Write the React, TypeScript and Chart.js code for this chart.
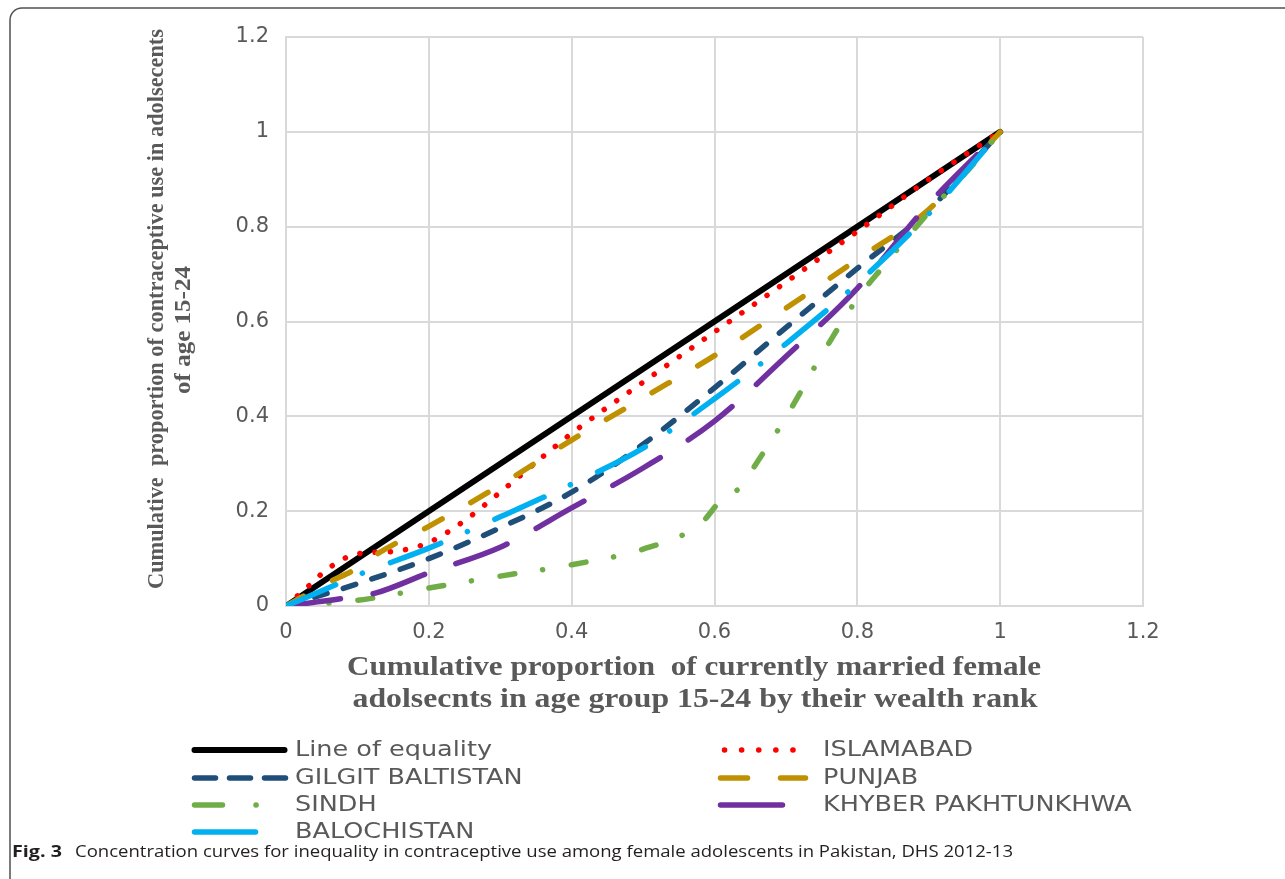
import React, { useEffect, useRef } from "react";
import { Chart, registerables } from "chart.js";

Chart.register(...registerables);

// ---------- data ----------
const seriesLabels = [
  "Line of equality",
  "ISLAMABAD",
  "GILGIT BALTISTAN",
  "PUNJAB",
  "SINDH",
  "KHYBER PAKHTUNKHWA",
  "BALOCHISTAN",
];

const equalityX = [0, 1];
const equalityY = [0, 1];

const islamabadX = [0, 0.03, 0.06, 0.1, 0.15, 0.2, 0.25, 0.3, 0.4, 0.5, 0.6, 0.7, 0.8, 0.9, 1];
const islamabadY = [0, 0.04, 0.08, 0.11, 0.115, 0.134, 0.18, 0.24, 0.364, 0.472, 0.578, 0.683, 0.79, 0.9, 1];

const gilgitX = [0, 0.1, 0.2, 0.3, 0.4, 0.5, 0.6, 0.7, 0.8, 0.9, 1];
const gilgitY = [0, 0.047, 0.1, 0.165, 0.24, 0.341, 0.46, 0.587, 0.712, 0.835, 1];

const punjabX = [0, 0.06, 0.1, 0.13, 0.2, 0.3, 0.4, 0.5, 0.6, 0.7, 0.8, 0.9, 1];
const punjabY = [0, 0.05, 0.08, 0.112, 0.168, 0.255, 0.35, 0.439, 0.528, 0.628, 0.731, 0.836, 1];

const sindhX = [0, 0.1, 0.2, 0.3, 0.4, 0.5, 0.58, 0.612, 0.636, 0.657, 0.7, 0.75, 0.8, 0.834, 0.9, 0.955, 1];
const sindhY = [0, 0.012, 0.038, 0.063, 0.087, 0.12, 0.173, 0.228, 0.25, 0.297, 0.398, 0.529, 0.648, 0.712, 0.83, 0.919, 1];

const kpX = [0, 0.085, 0.125, 0.2, 0.3, 0.4, 0.5, 0.6, 0.7, 0.8, 0.9, 1];
const kpY = [0, 0.017, 0.027, 0.07, 0.124, 0.207, 0.291, 0.39, 0.526, 0.67, 0.848, 1];

const balochistanX = [0, 0.07, 0.1, 0.2, 0.3, 0.4, 0.5, 0.6, 0.7, 0.8, 0.9, 1];
const balochistanY = [0, 0.045, 0.065, 0.122, 0.188, 0.257, 0.333, 0.437, 0.553, 0.68, 0.827, 1];

const axisTicks = [0, 0.2, 0.4, 0.6, 0.8, 1, 1.2];

const xTitleLines = [
  "Cumulative proportion  of currently married female",
  "adolsecnts in age group 15-24 by their wealth rank",
];
const yTitleLines = [
  "Cumulative  proportion of contraceptive use in adolsecents",
  "of age 15-24",
];
const captionBold = "Fig. 3";
const captionText =
  "Concentration curves for inequality in contraceptive use among female adolescents in Pakistan, DHS 2012-13";

// ---------- styles ----------
const colors = ["#000000", "#FF0000", "#1F4E79", "#BF9000", "#70AD47", "#7030A0", "#00B0F0"];
const widths = [6, 5.5, 5.5, 5.5, 5.5, 5.5, 5.5];
const dashes: number[][] = [
  [],
  [0.1, 15.2],
  [13, 17],
  [20, 33],
  [15, 28, 0.1, 29],
  [55, 33],
  [54, 29, 0.1, 30],
];
// legend sample: [x0, x1, dash]
const legendSamples: [number, number, number[]][] = [
  [194.5, 284.5, []],
  [724.5, 810, [0.1, 17]],
  [194.5, 286, [21, 14]],
  [720.5, 805.5, [27, 33]],
  [194.5, 257, [28, 33.5, 0.1, 100]],
  [720.5, 782.5, []],
  [194.5, 255.5, []],
];
const legendPos: [number, number][] = [
  [295, 750],
  [823, 750],
  [295, 778],
  [823, 778],
  [295, 805],
  [823, 805],
  [295, 832],
];

const xs = [equalityX, islamabadX, gilgitX, punjabX, sindhX, kpX, balochistanX];
const ys = [equalityY, islamabadY, gilgitY, punjabY, sindhY, kpY, balochistanY];

function drawFit(
  ctx: CanvasRenderingContext2D,
  text: string,
  x: number,
  y: number,
  width: number,
  align: CanvasTextAlign,
  rotate = 0
) {
  const w = ctx.measureText(text).width;
  const s = width / w;
  ctx.save();
  ctx.translate(x, y);
  if (rotate) ctx.rotate(rotate);
  ctx.scale(s, 1);
  ctx.textAlign = align;
  ctx.textBaseline = "middle";
  ctx.fillText(text, 0, 0);
  ctx.restore();
}

const decorPlugin = {
  id: "decor",
  beforeDraw(chart: any) {
    const ctx = chart.ctx as CanvasRenderingContext2D;
    ctx.save();
    ctx.fillStyle = "#ffffff";
    ctx.fillRect(0, 0, chart.width, chart.height);
    ctx.restore();
  },
  afterDraw(chart: any) {
    const ctx = chart.ctx as CanvasRenderingContext2D;
    ctx.save();

    // frame (top + left, rounded corner)
    ctx.strokeStyle = "#505050";
    ctx.lineWidth = 1.5;
    ctx.beginPath();
    const r = 12;
    ctx.moveTo(10, chart.height);
    ctx.lineTo(10, 8 + r);
    ctx.arcTo(10, 8, 10 + r, 8, r);
    ctx.lineTo(chart.width, 8);
    ctx.stroke();

    // x title
    ctx.fillStyle = "#595959";
    ctx.font = "bold 27px 'Liberation Serif'";
    drawFit(ctx, xTitleLines[0], 694, 668, 694, "center");
    drawFit(ctx, xTitleLines[1], 695, 700, 685, "center");

    // y title
    ctx.font = "bold 24px 'Liberation Serif'";
    drawFit(ctx, yTitleLines[0], 157, 309, 560, "center", -Math.PI / 2);
    drawFit(ctx, yTitleLines[1], 184, 330, 128, "center", -Math.PI / 2);

    // legend
    ctx.font = "22px 'DejaVu Sans'";
    chart.data.datasets.forEach((ds: any, i: number) => {
      const [x0, x1, dash] = legendSamples[i];
      const [tx, ty] = legendPos[i];
      ctx.save();
      ctx.strokeStyle = ds.borderColor;
      ctx.lineWidth = widths[i];
      ctx.lineCap = "round";
      ctx.setLineDash(dash);
      ctx.beginPath();
      ctx.moveTo(x0, ty);
      ctx.lineTo(x1, ty);
      ctx.stroke();
      ctx.restore();
      ctx.fillStyle = "#595959";
      const w = ctx.measureText(ds.label).width;
      drawFit(ctx, ds.label, tx, ty, w * 1.16, "left");
    });

    // caption
    ctx.fillStyle = "#231F20";
    ctx.font = "bold 16px 'Open Sans'";
    drawFit(ctx, captionBold, 12, 852, 50, "left");
    ctx.font = "16px 'Open Sans'";
    drawFit(ctx, captionText, 75, 852, 938, "left");

    ctx.restore();
  },
};

export default function App() {
  const ref = useRef<HTMLCanvasElement>(null);

  useEffect(() => {
    const datasets = seriesLabels.map((label, i) => ({
      label,
      data: xs[i].map((x, k) => ({ x, y: ys[i][k] })),
      borderColor: colors[i],
      backgroundColor: colors[i],
      borderWidth: widths[i],
      borderDash: dashes[i],
      borderCapStyle: "round" as const,
      borderJoinStyle: "round" as const,
      pointRadius: 0,
      fill: false,
      cubicInterpolationMode: i === 0 ? ("default" as const) : ("monotone" as const),
      order: seriesLabels.length - i,
    }));

    const fmt = (v: number) => String(+Number(v).toFixed(1));
    const tickFont = { family: "'DejaVu Sans'", size: 21 };

    const chart = new Chart(ref.current as HTMLCanvasElement, {
      type: "line",
      data: { datasets },
      plugins: [decorPlugin],
      options: {
        animation: false,
        responsive: false,
        devicePixelRatio: 1,
        layout: { padding: { left: 226, top: 37, right: 142, bottom: 223 } },
        plugins: { legend: { display: false }, tooltip: { enabled: false } },
        scales: {
          x: {
            type: "linear",
            min: 0,
            max: 1.2,
            afterFit: (s: any) => {
              s.height = 50;
            },
            afterBuildTicks: (s: any) => {
              s.ticks = axisTicks.map((v) => ({ value: v }));
            },
            ticks: { color: "#595959", font: tickFont, padding: 14, callback: (v: any) => fmt(v), maxRotation: 0 },
            grid: { color: "#D9D9D9", lineWidth: 2, drawTicks: false },
            border: { color: "#D9D9D9", width: 2 },
          },
          y: {
            type: "linear",
            min: 0,
            max: 1.2,
            afterFit: (s: any) => {
              s.width = 60;
            },
            afterBuildTicks: (s: any) => {
              s.ticks = axisTicks.map((v) => ({ value: v }));
            },
            ticks: { color: "#595959", font: tickFont, padding: 17, callback: (v: any) => fmt(v) },
            grid: { color: "#D9D9D9", lineWidth: 2, drawTicks: false },
            border: { color: "#D9D9D9", width: 2 },
          },
        },
      } as any,
    });
    return () => chart.destroy();
  }, []);

  return (
    <div style={{ position: "absolute", left: 0, top: 0, width: 1285, height: 879, background: "#fff" }}>
      <canvas ref={ref} width={1285} height={879} style={{ display: "block", width: 1285, height: 879 }} />
    </div>
  );
}
